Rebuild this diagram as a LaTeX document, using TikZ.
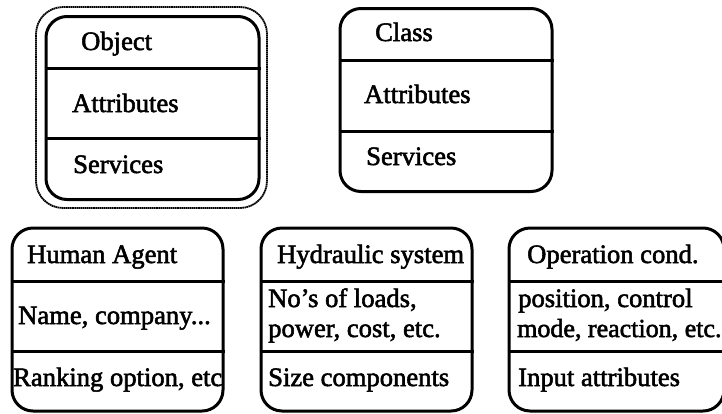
\documentclass[tikz,border=0pt]{standalone}
\usepackage{fontspec}
\setmainfont{Liberation Serif}
\usetikzlibrary{calc}
\tikzset{
  x=1pt,y=-1pt,
  panel/.style={draw=black,line width=3pt,rounded corners=21pt,fill=none,inner sep=0pt,minimum width=#1,minimum height=183pt},
  halo/.style={draw=black,line width=1.8pt,dash pattern=on 1.6pt off 0.5pt,rounded corners=27pt,inner sep=0pt,minimum width=231pt,minimum height=201pt},
  rule/.style={draw=black,line width=3pt},
  lab/.style={anchor=base west,inner sep=0pt,font=\fontsize{26.6}{28}\selectfont,text=black,
    execute at begin node={\special{pdf:code q 2 Tr 0.55 w}},
    execute at end node={\special{pdf:code Q}}}
}
\begin{document}
\begin{tikzpicture}
\useasboundingbox (0,0) rectangle (722,413);
% top row
\node[halo] (objhalo) at (151.5,107.5) {};
\node[panel=213pt] (obj) at (152.5,108) {};
\draw[rule] (obj.west |- 0,68) -- (obj.east |- 0,68);
\draw[rule] (obj.west |- 0,138) -- (obj.east |- 0,138);
\node[lab] (objt) at (81,50) {Object};
\node[lab] (obja) at (72,112) {Attributes};
\node[lab] (objs) at (73,173) {Services};

\node[panel=212pt] (cls) at (446,100) {};
\draw[rule] (cls.west |- 0,60) -- (cls.east |- 0,60);
\draw[rule] (cls.west |- 0,131) -- (cls.east |- 0,131);
\node[lab] (clst) at (375,41) {Class};
\node[lab] (clsa) at (364,103) {Attributes};
\node[lab] (clss) at (366,165) {Services};

% bottom row
\node[panel=211pt] (hum) at (117.5,319.5) {};
\draw[rule] (hum.west |- 0,281) -- (hum.east |- 0,281);
\draw[rule] (hum.west |- 0,351) -- (hum.east |- 0,351);
\node[lab] (humt) at (27,263) {Human Agent};
\node[lab] (huma) at (18,324) {Name, company...};
\node[lab] (hums) at (13,386) {Ranking option, etc};

\node[panel=211pt] (hyd) at (366.5,319.5) {};
\draw[rule] (hyd.west |- 0,281) -- (hyd.east |- 0,281);
\draw[rule] (hyd.west |- 0,351) -- (hyd.east |- 0,351);
\node[lab] (hydt) at (277,263) {Hydraulic system};
\node[lab] (hyda) at (268,307) {No's of loads,};
\node[lab] (hydb) at (268,337) {power, cost, etc.};
\node[lab] (hyds) at (268,386) {Size components};

\node[panel=215pt] (opc) at (616.5,319.5) {};
\draw[rule] (opc.west |- 0,281) -- (opc.east |- 0,281);
\draw[rule] (opc.west |- 0,351) -- (opc.east |- 0,351);
\node[lab] (opct) at (527,263) {Operation cond.};
\node[lab] (opca) at (518,307) {position, control};
\node[lab,font=\fontsize{26}{28}\selectfont] (opcb) at (517,337) {mode, reaction, etc.};
\node[lab] (opcs) at (518,386) {Input attributes};
\end{tikzpicture}
\end{document}
